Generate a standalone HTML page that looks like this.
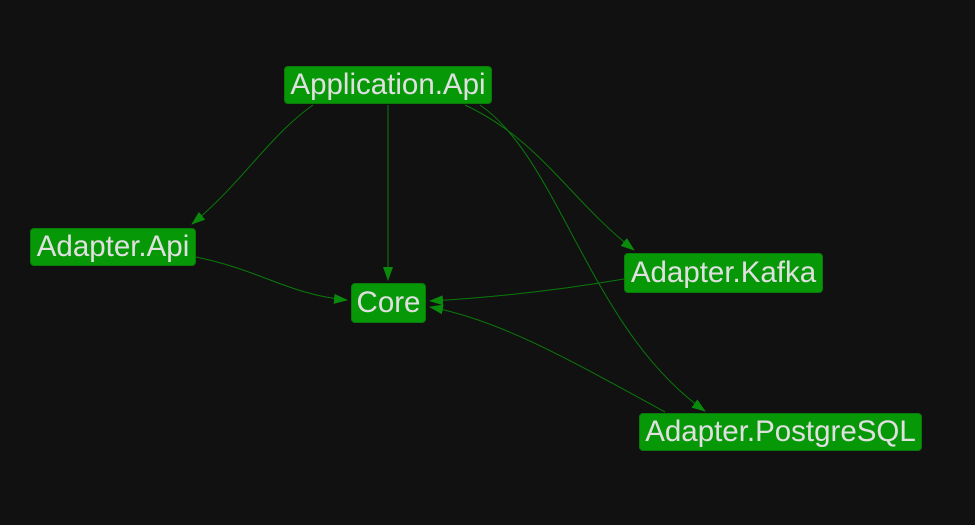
<!DOCTYPE html>
<html><head><style>
body{margin:0;background:#111;width:975px;height:525px;overflow:hidden;font-family:"Liberation Sans",sans-serif}
.n{position:absolute;background:#079807;border:1px solid #0a7a0a;border-radius:4px;color:#e0e0e0;font-size:29.5px;line-height:36px;text-align:center;box-sizing:border-box;white-space:nowrap}
svg{position:absolute;left:0;top:0}
</style></head><body>
<svg width="975" height="525">
<defs><marker id="a" markerWidth="14" markerHeight="10" refX="13" refY="5" orient="auto" markerUnits="userSpaceOnUse"><path d="M0,0L14,5L0,10z" fill="#0a8a0a"/></marker></defs>
<g fill="none" stroke="#0a7a0a" stroke-width="1">
<path d="M313,105C270,135 240,185 192,224" marker-end="url(#a)"/>
<path d="M388,105L388,280" marker-end="url(#a)"/>
<path d="M465,105C540,140 570,200 634,250" marker-end="url(#a)"/>
<path d="M480,105C560,160 590,330 705,411" marker-end="url(#a)"/>
<path d="M196,257C260,270 290,295 347,300" marker-end="url(#a)"/>
<path d="M624,279C560,290 500,297 430,301" marker-end="url(#a)"/>
<path d="M665,412C570,360 500,320 430,307" marker-end="url(#a)"/>
</g></svg>
<div class="n" style="left:284px;top:66px;width:208px;height:38px">Application.Api</div>
<div class="n" style="left:30px;top:228px;width:166px;height:38px">Adapter.Api</div>
<div class="n" style="left:351px;top:283px;width:75px;height:40px;line-height:38px">Core</div>
<div class="n" style="left:624px;top:253px;width:199px;height:40px;line-height:38px">Adapter.Kafka</div>
<div class="n" style="left:639px;top:413px;width:283px;height:38px">Adapter.PostgreSQL</div>
</body></html>
